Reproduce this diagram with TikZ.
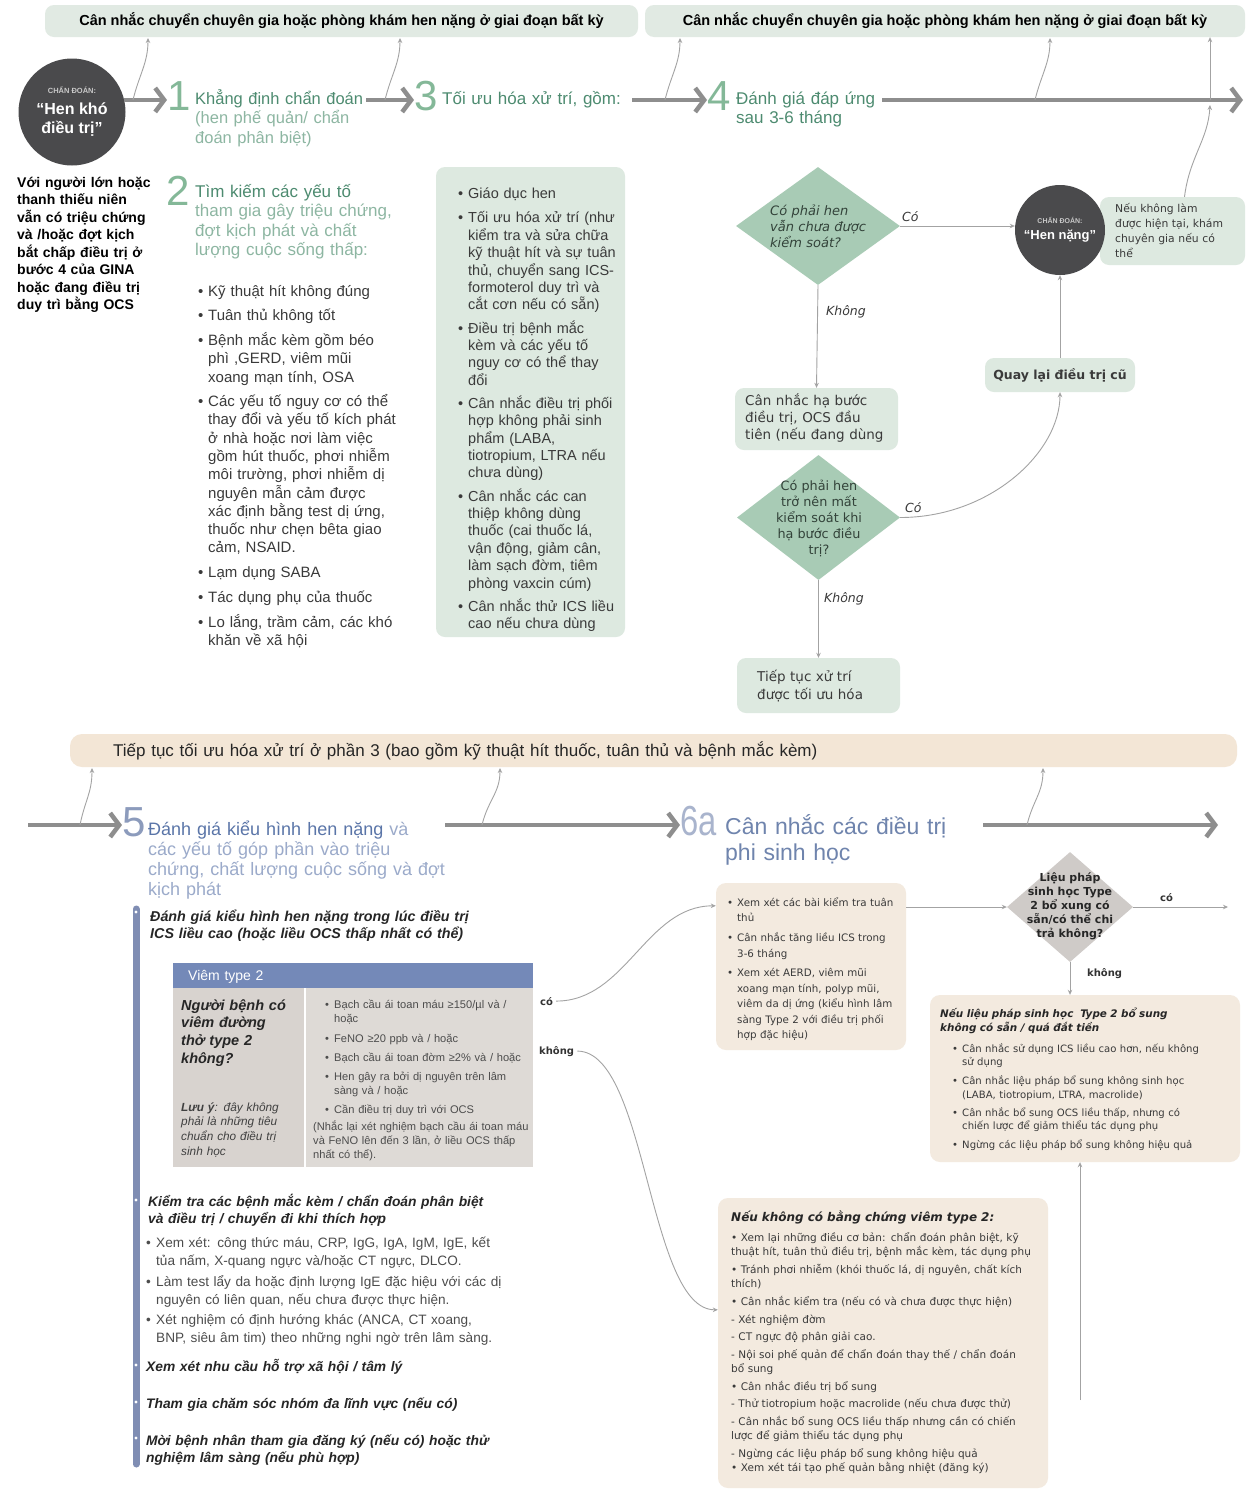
\documentclass[tikz,border=0pt]{standalone}
\usepackage{graphicx}
\usepackage{fontspec}
\setmainfont{Liberation Sans}
\newfontfamily\dvs{DejaVu Sans}
\usetikzlibrary{arrows.meta,shapes.geometric}

\definecolor{arrowgrey}{HTML}{8E8E8E}
\definecolor{linegrey}{HTML}{A3A3A3}
\definecolor{bannergreen}{HTML}{E1EAE3}
\definecolor{boxgreen}{HTML}{DDE9E0}
\definecolor{diagreen}{HTML}{A8CBB5}
\definecolor{darkdx}{HTML}{4A4A4C}
\definecolor{dxlabel}{HTML}{C9C9C9}
\definecolor{greendark}{HTML}{4D8B70}
\definecolor{greenlight}{HTML}{8DB6A2}
\definecolor{greennum}{HTML}{84B898}
\definecolor{diatext}{HTML}{33433A}
\definecolor{beigebanner}{HTML}{F3E6D6}
\definecolor{beigebox}{HTML}{F3EADF}
\definecolor{bluedark}{HTML}{5A75A8}
\definecolor{bluelight}{HTML}{9BAACA}
\definecolor{bluenum}{HTML}{8C9BBC}
\definecolor{bluesix}{HTML}{6F84AD}
\definecolor{bluebar}{HTML}{7F8DB3}
\definecolor{tablehead}{HTML}{7489B8}
\definecolor{tablegrey}{HTML}{D8D3CF}
\definecolor{diagrey}{HTML}{CFCBC8}
\definecolor{bodytext}{HTML}{3A3A3A}

\newcommand\fs[2]{\fontsize{#1}{#2}\selectfont}
\newcommand\bul[1][10pt]{\makebox[#1][l]{\textbullet}}
\newcommand\ind[1][10pt]{\hspace*{#1}}

\begin{document}
\begin{tikzpicture}[x=1pt, y=-1pt, >=Stealth,
  main/.style={draw=arrowgrey, line width=4.5pt, -{Straight Barb[length=9pt,width=24pt]}},
  thin/.style={draw=linegrey, line width=0.9pt, -{Stealth[length=5pt,width=4.5pt]}},
  txt/.style={inner sep=0pt, anchor=base west, align=left, text width=430pt},
  banner/.style={fill=bannergreen, rounded corners=9pt, inner sep=0pt},
  gbox/.style={fill=boxgreen, rounded corners=9pt, inner sep=0pt},
  bbox/.style={fill=beigebox, rounded corners=10pt, inner sep=0pt},
  dx/.style={circle, fill=darkdx, inner sep=0pt, align=center, text=white, font=\bfseries},
  num/.style={inner sep=0pt, anchor=base west, font=\fs{42}{42}},
  gdia/.style={diamond, fill=diagreen, inner sep=0pt},
  lab/.style={inner sep=0pt, anchor=base west, font=\dvs\itshape\fs{12.5}{15}, text=bodytext},
  stxt/.style={txt, font=\dvs\fs{13.5}{17}, text=bodytext},
  bihead/.style={txt, font=\bfseries\itshape\fs{13.8}{17}, text=black!85},
  small/.style={inner sep=0pt, anchor=base west, font=\dvs\bfseries\fs{10}{12}, text=black!80}]

  \useasboundingbox (0,0) rectangle (1248,1497);
  \fill[white] (0,0) rectangle (1248,1497);

  % Top banners
  \node[banner, minimum width=593, minimum height=32, font=\bfseries\fs{14.5}{16}] (ban1) at (341.5,21) {Cân nhắc chuyển chuyên gia hoặc phòng khám hen nặng ở giai đoạn bất kỳ};
  \node[banner, minimum width=600, minimum height=32, font=\bfseries\fs{14.5}{16}] (ban2) at (945,21) {Cân nhắc chuyển chuyên gia hoặc phòng khám hen nặng ở giai đoạn bất kỳ};

  % Diagnosis and steps 1, 3, 4
  \node[dx, minimum size=107, font=\bfseries\fs{16}{19}] (dx1) at (72,112) {{\fs{7.5}{9}\color{dxlabel}CHẨN ĐOÁN:}\\[2pt]“Hen khó\\điều trị”};
  \node[num, text=greennum] (n1) at (167,110) {1};
  \node[txt, font=\fs{16.5}{19.5}, text=greenlight] (t1) at (195,104) {\textcolor{greendark}{Khẳng định chẩn đoán}\\(hen phế quản/ chẩn\\đoán phân biệt)};
  \node[num, text=greennum] (n3) at (414,110) {3};
  \node[txt, font=\fs{17}{19.5}, text=greendark] (t3) at (442,104) {Tối ưu hóa xử trí, gồm:};
  \node[num, text=greennum] (n4) at (707,110) {4};
  \node[txt, font=\fs{17}{19.5}, text=greendark] (t4) at (736,104) {Đánh giá đáp ứng\\sau 3-6 tháng};

  \coordinate (a2s) at (366,100);
  \coordinate (a3s) at (632,100);
  \coordinate (a4s) at (882,100);
  \coordinate (a4e) at (1243,100);
  \draw[main] (dx1.13) -- (dx1.13 -| n1.west);
  \draw[main] (a2s) -- (a2s -| n3.west);
  \draw[main] (a3s) -- (a3s -| n4.west);
  \draw[main] (a4s) -- (a4e);

  % Up to the banner
  \coordinate (up1a) at (133,100);  \coordinate (up1b) at (148,38);
  \coordinate (up2a) at (385,100);  \coordinate (up2b) at (400,38);
  \coordinate (up3a) at (665,100);  \coordinate (up3b) at (680,38);
  \coordinate (up4a) at (1035,100); \coordinate (up4b) at (1050,38);
  \draw[thin] (up1a) .. controls +(6,-25) and +(0,25) .. (up1b);
  \draw[thin] (up2a) .. controls +(6,-25) and +(0,25) .. (up2b);
  \draw[thin] (up3a) .. controls +(6,-25) and +(0,25) .. (up3b);
  \draw[thin] (up4a) .. controls +(6,-25) and +(0,25) .. (up4b);
  \coordinate (hnvl) at (1210,100);
  \draw[thin] (hnvl) -- (hnvl |- ban2.south);

  % Left note and step 2
  \node[txt, font=\bfseries\fs{14}{17.5}, text=black] (lt) at (17,187) {Với người lớn hoặc\\thanh thiếu niên\\vẫn có triệu chứng\\và /hoặc đợt kịch\\bắt chấp điều trị ở\\bước 4 của GINA\\hoặc đang điều trị\\duy trì bằng OCS};
  \node[num, text=greennum] (n2) at (166,205) {2};
  \node[txt, font=\fs{17}{19.5}, text=greenlight] (t2) at (195,197) {\textcolor{greendark}{Tìm kiếm các yếu tố}\\tham gia gây triệu chứng,\\đợt kịch phát và chất\\lượng cuộc sống thấp:};
  \node[txt, font=\fs{15}{18.3}, text=bodytext] (l2) at (198,296) {\bul Kỹ thuật hít không đúng\\[6.5pt]
    \bul Tuân thủ không tốt\\[6.5pt]
    \bul Bệnh mắc kèm gồm béo\\\ind phì ,GERD, viêm mũi\\\ind xoang mạn tính, OSA\\[6pt]
    \bul Các yếu tố nguy cơ có thể\\\ind thay đổi và yếu tố kích phát\\\ind ở nhà hoặc nơi làm việc\\\ind gồm hút thuốc, phơi nhiễm\\\ind môi trường, phơi nhiễm dị\\\ind nguyên mẫn cảm được\\\ind xác định bằng test dị ứng,\\\ind thuốc như chẹn bêta giao\\\ind cảm, NSAID.\\[6pt]
    \bul Lạm dụng SABA\\[6.5pt]
    \bul Tác dụng phụ của thuốc\\[7pt]
    \bul Lo lắng, trầm cảm, các khó\\\ind khăn về xã hội};

  % Step 3 box
  \node[gbox, minimum width=189, minimum height=470] (b3) at (530.5,402) {};
  \node[txt, font=\fs{14.5}{17.4}, text=bodytext] (l3) at (458,198) {\bul Giáo dục hen\\[7.5pt]
    \bul Tối ưu hóa xử trí (như\\\ind kiểm tra và sửa chữa\\\ind kỹ thuật hít và sự tuân\\\ind thủ, chuyển sang ICS-\\\ind formoterol duy trì và\\\ind cắt cơn nếu có sẵn)\\[5.7pt]
    \bul Điều trị bệnh mắc\\\ind kèm và các yếu tố\\\ind nguy cơ có thể thay\\\ind đổi\\[5.7pt]
    \bul Cân nhắc điều trị phối\\\ind hợp không phải sinh\\\ind phẩm (LABA,\\\ind tiotropium, LTRA nếu\\\ind chưa dùng)\\[5.7pt]
    \bul Cân nhắc các can\\\ind thiệp không dùng\\\ind thuốc (cai thuốc lá,\\\ind vận động, giảm cân,\\\ind làm sạch đờm, tiêm\\\ind phòng vaxcin cúm)\\[5.7pt]
    \bul Cân nhắc thử ICS liều\\\ind cao nếu chưa dùng};

  % Step 4 flow
  \node[gbox, minimum width=145, minimum height=68] (hnb) at (1172.5,231) {};
  \node[txt, font=\dvs\fs{10.8}{15}, text=bodytext] (hnbt) at (1115,212) {Nếu không làm\\được hiện tại, khám\\chuyên gia nếu có\\thể};
  \node[dx, minimum size=90, font=\bfseries\fs{13}{15}] (hn) at (1060,230) {{\fs{7}{9}\color{dxlabel}CHẨN ĐOÁN:}\\[1pt]“Hen nặng”};
  \coordinate (hnup) at (1210,105);
  \draw[thin] ([xshift=12pt]hnb.north) .. controls +(5,-40) and +(-2,35) .. (hnup);

  \node[gdia, minimum width=164, minimum height=118] (q1) at (818,226) {};
  \node[txt, font=\dvs\itshape\fs{13}{16}, text=diatext] (q1t) at (770,215) {Có phải hen\\vẫn chưa được\\kiểm soát?};
  \node[lab] (c1) at (902,221) {Có};
  \draw[thin] (q1.east) -- (q1.east -| hn.west);
  \node[lab] (k1) at (826,315) {Không};
  \node[gbox, minimum width=163, minimum height=62] (hb) at (816.5,419) {};
  \draw[thin] (q1.south) -- (hb.north);
  \node[stxt] (hbt) at (745,405) {Cân nhắc hạ bước\\điều trị, OCS đầu\\tiên (nếu đang dùng};

  \node[gdia, minimum width=163, minimum height=125] (q2) at (818.5,517.5) {};
  \node[inner sep=0pt, align=center, font=\dvs\fs{12.8}{16}, text=diatext] (q2t) at (819,518) {Có phải hen\\trở nên mất\\kiểm soát khi\\hạ bước điều\\trị?};
  \node[lab] (c2) at (905,512) {Có};
  \node[gbox, minimum width=150, minimum height=34, font=\dvs\bfseries\fs{12.5}{15}, text=bodytext] (ql) at (1060,375) {Quay lại điều trị cũ};
  \draw[thin] (q2.east) .. controls +(90,0) and +(0,60) .. (ql.south);
  \draw[thin] (ql.north) -- (hn.south);
  \node[lab] (k2) at (824,602) {Không};
  \node[gbox, minimum width=163, minimum height=55] (tt) at (818.5,685.5) {};
  \draw[thin] (q2.south) -- (tt.north);
  \node[stxt, font=\dvs\fs{13.5}{18}] (ttt) at (757,681) {Tiếp tục xử trí\\được tối ưu hóa};

  % Lower banner and steps 5, 6a
  \node[fill=beigebanner, rounded corners=12pt, minimum width=1167, minimum height=33, inner sep=0pt] (ban3) at (653.5,750.5) {};
  \node[txt, text width=760pt, font=\fs{17}{18}, text=black!85] (ban3t) at (113,756) {Tiếp tục tối ưu hóa xử trí ở phần 3 (bao gồm kỹ thuật hít thuốc, tuân thủ và bệnh mắc kèm)};

  \node[num, text=bluenum] (n5) at (122,836) {5};
  \node[txt, font=\fs{18}{20}, text=bluelight] (t5) at (148,835) {\textcolor{bluedark}{Đánh giá kiểu hình hen nặng} và\\các yếu tố góp phần vào triệu\\chứng, chất lượng cuộc sống và đợt\\kịch phát};
  \node[num, text=bluenum!75] (n6) at (680,835) {\scalebox{0.78}[1]{6a}};
  \node[txt, font=\fs{23}{26}, text=bluesix] (t6) at (725,834) {Cân nhắc các điều trị\\phi sinh học};

  \coordinate (b0) at (28,825);
  \coordinate (b1) at (445,825);
  \coordinate (b2) at (983,825);
  \coordinate (b2e) at (1218,825);
  \draw[main] (b0) -- (b0 -| n5.west);
  \draw[main] (b1) -- (b1 -| n6.west);
  \draw[main] (b2) -- (b2e);

  \coordinate (up5a) at (80,825);   \coordinate (up5b) at (92,768);
  \coordinate (up6a) at (482,825);  \coordinate (up6b) at (500,768);
  \coordinate (up7a) at (1027,825); \coordinate (up7b) at (1043,768);
  \draw[thin] (up5a) .. controls +(5,-25) and +(0,25) .. (up5b);
  \draw[thin] (up6a) .. controls +(6,-25) and +(0,25) .. (up6b);
  \draw[thin] (up7a) .. controls +(6,-25) and +(0,25) .. (up7b);

  % Step 5 column
  \draw[bluebar, line width=7pt, line cap=round] (136,909) -- (136,1464);
  \foreach \yy in {912,1200,1365,1402,1438}
    \fill[white] (136,\yy) circle (1.6);
  \node[bihead, font=\bfseries\itshape\fs{14.3}{17}] (h5a) at (150,921) {Đánh giá kiểu hình hen nặng trong lúc điều trị\\ICS liều cao (hoặc liều OCS thấp nhất có thể)};

  \node[fill=tablehead, minimum width=360, minimum height=25, inner sep=0pt] (th) at (353,975.5) {};
  \node[txt, font=\fs{14}{16}, text=white] (tht) at (188,980) {Viêm type 2};
  \node[fill=tablegrey, minimum width=131, minimum height=179, inner sep=0pt] (tl) at (238.5,1077.5) {};
  \node[fill=tablegrey!85, minimum width=227, minimum height=179, inner sep=0pt] (tr) at (419.5,1077.5) {};
  \node[txt, font=\bfseries\itshape\fs{14.5}{17.7}, text=black!85] (tlq) at (181,1010) {Người bệnh có\\viêm đường\\thở type 2\\không?};
  \node[txt, font=\itshape\fs{11.8}{14.7}, text=black!75] (tln) at (181,1111) {\textbf{Lưu ý}: đây không\\phải là những tiêu\\chuẩn cho điều trị\\sinh học};
  \node[txt, font=\fs{11.1}{14}, text=black!70] (trl) at (313,1008) {\ind[12pt]\bul[9pt]Bạch cầu ái toan máu ≥150/µl và /\\\ind[21pt]hoặc\\[6pt]
    \ind[12pt]\bul[9pt]FeNO ≥20 ppb và / hoặc\\[5pt]
    \ind[12pt]\bul[9pt]Bạch cầu ái toan đờm ≥2\% và / hoặc\\[5pt]
    \ind[12pt]\bul[9pt]Hen gây ra bởi dị nguyên trên lâm\\\ind[21pt]sàng và / hoặc\\[5pt]
    \ind[12pt]\bul[9pt]Cần điều trị duy trì với OCS\\[3pt]
    (Nhắc lại xét nghiệm bạch cầu ái toan máu\\và FeNO lên đến 3 lần, ở liều OCS thấp\\nhất có thể).};
  \node[small] (tco) at (540,1005) {có};
  \node[small] (tkh) at (539,1054) {không};

  \node[bihead] (h5b) at (148,1206) {Kiểm tra các bệnh mắc kèm / chẩn đoán phân biệt\\và điều trị / chuyển đi khi thích hợp};
  \node[txt, font=\fs{13.6}{18}, text=black!70] (l5) at (146,1247) {\bul Xem xét: công thức máu, CRP, IgG, IgA, IgM, IgE, kết\\\ind tủa nấm, X-quang ngực và/hoặc CT ngực, DLCO.\\[3pt]
    \bul Làm test lẩy da hoặc định lượng IgE đặc hiệu với các dị\\\ind nguyên có liên quan, nếu chưa được thực hiện.\\[2pt]
    \bul Xét nghiệm có định hướng khác (ANCA, CT xoang,\\\ind BNP, siêu âm tim) theo những nghi ngờ trên lâm sàng.};
  \node[bihead] (h5c) at (146,1371) {Xem xét nhu cầu hỗ trợ xã hội / tâm lý};
  \node[bihead] (h5d) at (146,1408) {Tham gia chăm sóc nhóm đa lĩnh vực (nếu có)};
  \node[bihead] (h5e) at (146,1445) {Mời bệnh nhân tham gia đăng ký (nếu có) hoặc thử\\nghiệm lâm sàng (nếu phù hợp)};

  % Step 6a column
  \node[bbox, minimum width=190, minimum height=167] (b6) at (811,966.5) {};
  \node[txt, font=\dvs\fs{10.3}{15.5}, text=bodytext] (b6t) at (727,906) {\bul Xem xét các bài kiểm tra tuân\\\ind thủ\\[4.5pt]
    \bul Cân nhắc tăng liều ICS trong\\\ind 3-6 tháng\\[4pt]
    \bul Xem xét AERD, viêm mũi\\\ind xoang mạn tính, polyp mũi,\\\ind viêm da dị ứng (kiểu hình lâm\\\ind sàng Type 2 với điều trị phối\\\ind hợp đặc hiệu)};
  \node[bbox, minimum width=330, minimum height=290] (bb) at (883,1343) {};
  \node[txt, font=\dvs\bfseries\itshape\fs{12}{14}, text=black!85] (bbh) at (731,1221) {Nếu không có bằng chứng viêm type 2:};
  \node[txt, font=\dvs\fs{10.5}{14}, text=bodytext] (bbt) at (731,1241) {\textbullet\ Xem lại những điều cơ bản: chẩn đoán phân biệt, kỹ\\thuật hít, tuân thủ điều trị, bệnh mắc kèm, tác dụng phụ\\[4pt]
    \textbullet\ Tránh phơi nhiễm (khói thuốc lá, dị nguyên, chất kích\\thích)\\[4pt]
    \textbullet\ Cân nhắc kiểm tra (nếu có và chưa được thực hiện)\\[4pt]
    - Xét nghiệm đờm\\[3pt]
    - CT ngực độ phân giải cao.\\[4pt]
    - Nội soi phế quản để chẩn đoán thay thế / chẩn đoán\\bổ sung\\[4pt]
    \textbullet\ Cân nhắc điều trị bổ sung\\[3pt]
    - Thử tiotropium hoặc macrolide (nếu chưa được thử)\\[4pt]
    - Cân nhắc bổ sung OCS liều thấp nhưng cần có chiến\\lược để giảm thiểu tác dụng phụ\\[4pt]
    - Ngừng các liệu pháp bổ sung không hiệu quả\\
    \textbullet\ Xem xét tái tạo phế quản bằng nhiệt (đăng ký)};

  \draw[thin] ([xshift=3pt]tco.east) .. controls +(70,0) and +(-70,0) .. ([yshift=-23pt]b6.north west);
  \draw[thin] ([xshift=3pt]tkh.east) .. controls +(70,0) and +(-70,0) .. ([yshift=-112pt]bb.north west);

  \node[diamond, fill=diagrey, minimum width=126, minimum height=110, inner sep=0pt] (q3) at (1070,907) {};
  \node[inner sep=0pt, align=center, font=\dvs\bfseries\fs{11}{14}, text=black!85] (q3t) at (1070,906) {Liệu pháp\\sinh học Type\\2 bổ xung có\\sẵn/có thể chi\\trả không?};
  \draw[thin] (b6.east |- q3.west) -- (q3.west);
  \node[small] (q3c) at (1160,901) {có};
  \coordinate (q3r) at (1228,907);
  \draw[thin] (q3.east) -- (q3r);
  \node[small] (q3k) at (1087,976) {không};

  \node[bbox, minimum width=310, minimum height=167] (br) at (1085,1078.5) {};
  \draw[thin] (q3.south) -- (q3.south |- br.north);
  \node[txt, font=\dvs\bfseries\itshape\fs{10.4}{14}, text=black!85] (brh) at (940,1017) {Nếu liệu pháp sinh học\ \ Type 2 bổ sung\\không có sẵn / quá đắt tiền};
  \node[txt, font=\dvs\fs{10.1}{13.5}, text=bodytext] (brt) at (952,1052) {\bul Cân nhắc sử dụng ICS liều cao hơn, nếu không\\\ind sử dụng\\[5.5pt]
    \bul Cân nhắc liệu pháp bổ sung không sinh học\\\ind (LABA, tiotropium, LTRA, macrolide)\\[4.5pt]
    \bul Cân nhắc bổ sung OCS liều thấp, nhưng có\\\ind chiến lược để giảm thiểu tác dụng phụ\\[5.5pt]
    \bul Ngừng các liệu pháp bổ sung không hiệu quả};

  \coordinate (brin) at (1080,1400);
  \draw[thin] (brin) -- (brin |- br.south);

\end{tikzpicture}
\end{document}
